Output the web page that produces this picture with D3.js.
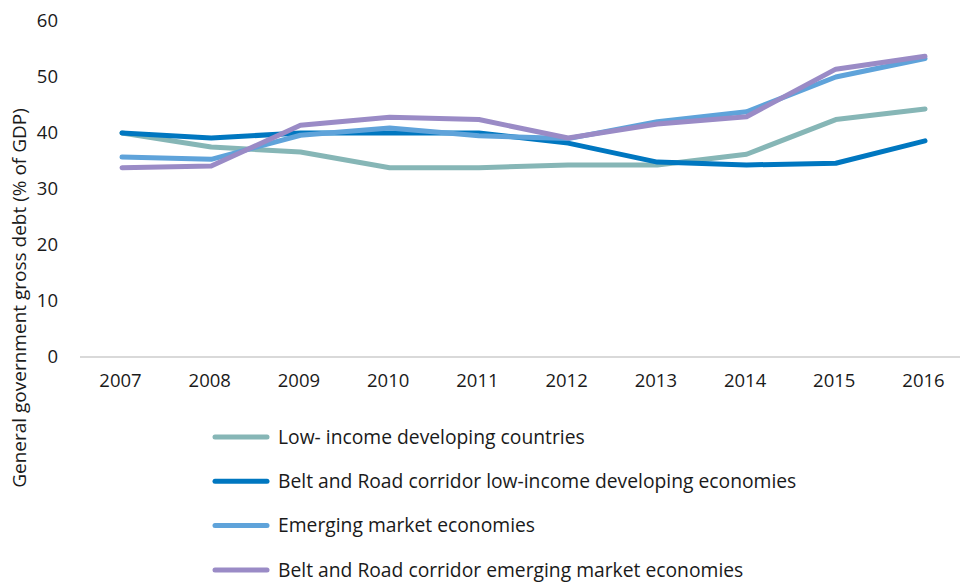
<!DOCTYPE html>
<html><head><meta charset="utf-8">
<script src="https://cdn.jsdelivr.net/npm/d3@7"></script>
<style>body{margin:0;background:#fff}svg{display:block}text{font-family:"Open Sans",sans-serif;fill:#1a1a1a}</style>
</head><body>
<svg id="c" width="962" height="582"></svg>
<script>
const years = ["2007","2008","2009","2010","2011","2012","2013","2014","2015","2016"];
const yTicks = [0,10,20,30,40,50,60];
const seriesNames = [
  "Low- income developing countries",
  "Belt and Road corridor low-income developing economies",
  "Emerging market economies",
  "Belt and Road corridor emerging market economies"
];
const lowIncome    = [40.0, 37.5, 36.6, 33.8, 33.8, 34.3, 34.3, 36.2, 42.4, 44.3];
const briLowIncome = [40.0, 39.1, 40.0, 40.0, 40.0, 38.2, 34.8, 34.3, 34.6, 38.6];
const emerging     = [35.7, 35.3, 39.6, 40.9, 39.5, 39.0, 42.0, 43.8, 50.0, 53.3];
const briEmerging  = [33.8, 34.1, 41.4, 42.8, 42.4, 39.1, 41.6, 42.9, 51.4, 53.7];
const colors = ["#86b6b6","#0077c0","#5fa3da","#9a8bc6"];

const series = [lowIncome, briLowIncome, emerging, briEmerging];
const svg = d3.select("#c");
const x = d3.scalePoint().domain(years).range([122, 925]);
const y = d3.scaleLinear().domain([0,60]).range([357, 21]);

// y tick labels
const yAxis = d3.axisLeft(y).tickValues(yTicks).tickSize(0).tickPadding(0);
const gy = svg.append("g").attr("transform","translate(58,0)").call(yAxis);
gy.select(".domain").remove();
gy.selectAll("text").style("font-size","18.5px").attr("fill","#1a1a1a").attr("font-family",'"Open Sans",sans-serif');

// x axis baseline
svg.append("line").attr("x1",80).attr("x2",960).attr("y1",y(0)).attr("y2",y(0))
  .attr("stroke","#d9d9d9").attr("stroke-width",2);
const xAxis = d3.axisBottom(x).tickSize(0).tickPadding(0);
const gx = svg.append("g").attr("transform","translate(-2,374)").call(xAxis);
gx.select(".domain").remove();
gx.selectAll("text").style("font-size","18.5px").attr("fill","#1a1a1a").attr("font-family",'"Open Sans",sans-serif');

// y title
svg.append("text").attr("transform","translate(26,298) rotate(-90)").attr("text-anchor","middle")
  .style("font-size","19px").text("General government gross debt (% of GDP)");

const line = d3.line().x((d,i)=>x(years[i])).y(d=>y(d));
series.forEach((s,k)=>{
  svg.append("path").datum(s).attr("d",line).attr("fill","none")
    .attr("stroke",colors[k]).attr("stroke-width",5).attr("stroke-linecap","round").attr("stroke-linejoin","round");
});

// legend
const lg = svg.append("g");
seriesNames.forEach((n,k)=>{
  const yy = 437 + k*44.3;
  lg.append("line").attr("x1",215).attr("x2",267).attr("y1",yy).attr("y2",yy)
    .attr("stroke",colors[k]).attr("stroke-width",5).attr("stroke-linecap","round");
  lg.append("text").attr("x",278).attr("y",yy).attr("dy","0.35em").style("font-size","19.3px").text(n);
});
</script>
</body></html>
